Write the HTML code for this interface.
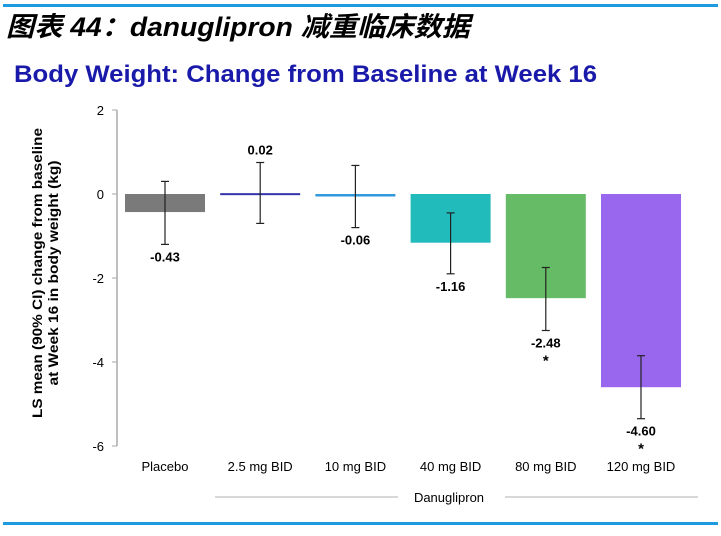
<!DOCTYPE html>
<html><head><meta charset="utf-8"><style>
body{margin:0;background:#fff;width:721px;height:531px;overflow:hidden;font-family:"Liberation Sans",Arial,sans-serif}
</style></head><body>
<svg width="721" height="531" xmlns="http://www.w3.org/2000/svg">
<rect x="3" y="4" width="715" height="3" fill="#1e9ae0"/>
<rect x="3" y="522" width="715" height="3" fill="#1e9ae0"/>
<text x="6" y="36" font-family="'Liberation Sans','Noto Sans CJK SC',sans-serif" font-size="27" font-weight="bold" font-style="italic" textLength="464" lengthAdjust="spacingAndGlyphs">图表 44：danuglipron 减重临床数据</text>
<text x="14" y="82" font-size="24" font-weight="bold" fill="#1a1aaa" textLength="583" lengthAdjust="spacingAndGlyphs">Body Weight: Change from Baseline at Week 16</text>
<g transform="translate(42,273) rotate(-90)" font-size="13.5" font-weight="bold" text-anchor="middle">
<text x="0" y="0" textLength="290" lengthAdjust="spacingAndGlyphs">LS mean (90% CI) change from baseline</text>
<text x="0" y="16" textLength="225" lengthAdjust="spacingAndGlyphs">at Week 16 in body weight (kg)</text>
</g>
<line x1="117" y1="110" x2="117" y2="446" stroke="#aaa" stroke-width="1.5"/>
<g id="yt"></g>
<g id="bars"></g>
<text x="449" y="502" font-size="13" text-anchor="middle">Danuglipron</text>
<line x1="215" y1="497" x2="398" y2="497" stroke="#ccc" stroke-width="1.5"/>
<line x1="505" y1="497" x2="698" y2="497" stroke="#ccc" stroke-width="1.5"/>
</svg>
<script>
const categories=["Placebo","2.5 mg BID","10 mg BID","40 mg BID","80 mg BID","120 mg BID"];
const values=[-0.43,0.02,-0.06,-1.16,-2.48,-4.60];
const ciHigh=[0.3,0.75,0.68,-0.45,-1.75,-3.85];
const ciLow=[-1.2,-0.7,-0.8,-1.9,-3.25,-5.35];
const labels=["-0.43","0.02","-0.06","-1.16","-2.48","-4.60"];
const stars=[false,false,false,false,true,true];
const colors=["#7a7a7a","#3333aa","#3399dd","#22bbbb","#66bb66","#9966ee"];
const yTicks=[2,0,-2,-4,-6];
const NS="http://www.w3.org/2000/svg";
const y=v=>194-42*v;
const x=i=>165+95.2*i;
function mk(t,a,p){const e=document.createElementNS(NS,t);for(const k in a)e.setAttribute(k,a[k]);p.appendChild(e);return e;}
const yt=document.getElementById('yt');
yTicks.forEach(t=>{
 const tx=mk('text',{x:104,y:y(t)+5,'font-size':13,'text-anchor':'end'},yt);tx.textContent=t;
 
 
 const l=mk('line',{x1:112,x2:117,y1:y(t),y2:y(t),stroke:'#aaa'},yt);
 
 
});
const bg=document.getElementById('bars');
categories.forEach((c,i)=>{
 const v=values[i],top=Math.min(y(0),y(v)),h=Math.max(Math.abs(y(v)-y(0)),2);
 const r=mk('rect',{x:x(i)-40,y:top,width:80,height:h,fill:colors[i]},bg);
 
 
 const eb=mk('g',{stroke:'#222','stroke-width':1.2},bg);
 
 
 mk('line',{x1:x(i),x2:x(i),y1:y(ciHigh[i]),y2:y(ciLow[i])},eb);
 mk('line',{x1:x(i)-4,x2:x(i)+4,y1:y(ciHigh[i]),y2:y(ciHigh[i])},eb);
 mk('line',{x1:x(i)-4,x2:x(i)+4,y1:y(ciLow[i]),y2:y(ciLow[i])},eb);
 const ly=v>0?y(ciHigh[i])-8:y(ciLow[i])+17;
 const t=mk('text',{x:x(i),y:ly,'font-size':13,'font-weight':'bold','text-anchor':'middle'},bg);t.textContent=labels[i];
 
 
 if(stars[i]){const s=mk('text',{x:x(i),y:ly+18,'font-size':15,'font-weight':'bold','text-anchor':'middle'},bg);s.textContent='*';
 
 }
 const xl=mk('text',{x:x(i),y:471,'font-size':13,'text-anchor':'middle'},bg);xl.textContent=c;
 
 
});
</script>
</body></html>
